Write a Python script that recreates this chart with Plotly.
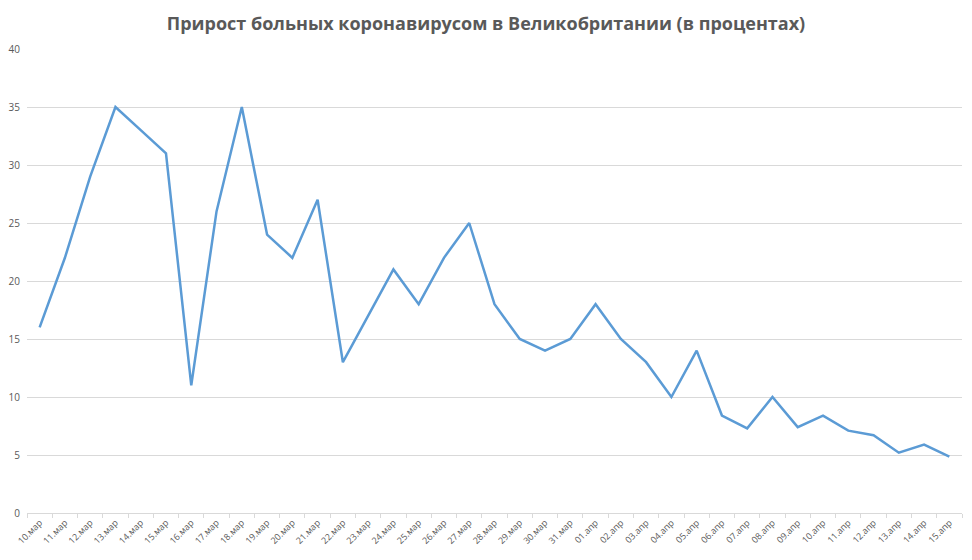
import plotly.graph_objects as go

# daily growth of covid cases in the UK, %
dates = [
    "10.мар", "11.мар", "12.мар", "13.мар", "14.мар", "15.мар", "16.мар",
    "17.мар", "18.мар", "19.мар", "20.мар", "21.мар", "22.мар", "23.мар",
    "24.мар", "25.мар", "26.мар", "27.мар", "28.мар", "29.мар", "30.мар",
    "31.мар", "01.апр", "02.апр", "03.апр", "04.апр", "05.апр", "06.апр",
    "07.апр", "08.апр", "09.апр", "10.апр", "11.апр", "12.апр", "13.апр",
    "14.апр", "15.апр",
]
growth = [
    16, 22, 29, 35, 33, 31, 11,
    26, 35, 24, 22, 27, 13, 17,
    21, 18, 22, 25, 18, 15, 14,
    15, 18, 15, 13, 10, 14, 8.4,
    7.3, 10, 7.4, 8.4, 7.1, 6.7, 5.2,
    5.9, 4.85,
]
y_ticks = [0, 5, 10, 15, 20, 25, 30, 35, 40]

fig = go.Figure(
    go.Scatter(
        x=dates,
        y=growth,
        mode="lines",
        line=dict(color="#5b9bd5", width=2.5),
        hoverinfo="x+y",
    )
)

# page body has an 8px margin, so the figure is 16px smaller than the window
fig.update_layout(
    width=956,
    height=544,
    paper_bgcolor="white",
    plot_bgcolor="white",
    showlegend=False,
    margin=dict(l=19, r=2, t=41, b=39),
    title=dict(
        text="<b>Прирост больных коронавирусом в Великобритании (в процентах)</b>",
        x=0.5,
        xanchor="center",
        y=1 - 16 / 544,
        yanchor="middle",
        font=dict(family="Open Sans", size=18, color="#595959"),
    ),
    font=dict(family="Open Sans", color="#595959"),
)

fig.update_xaxes(
    type="category",
    range=[-0.5, len(dates) - 0.5],
    tickangle=-45,
    tickfont=dict(size=9, color="#595959"),
    showgrid=False,
    showline=True,
    linecolor="#d9d9d9",
    linewidth=1,
    ticks="outside",
    tickson="boundaries",
    ticklen=4,
    tickcolor="#d9d9d9",
    zeroline=False,
    automargin=False,
)

fig.update_yaxes(
    range=[0, 40],
    tickvals=y_ticks,
    tickfont=dict(size=10, color="#595959"),
    showgrid=True,
    gridcolor="#d9d9d9",
    gridwidth=1,
    zeroline=False,
    showline=False,
    ticks="",
    ticklabelstandoff=6,
    automargin=False,
)

fig.write_html("out.html")
